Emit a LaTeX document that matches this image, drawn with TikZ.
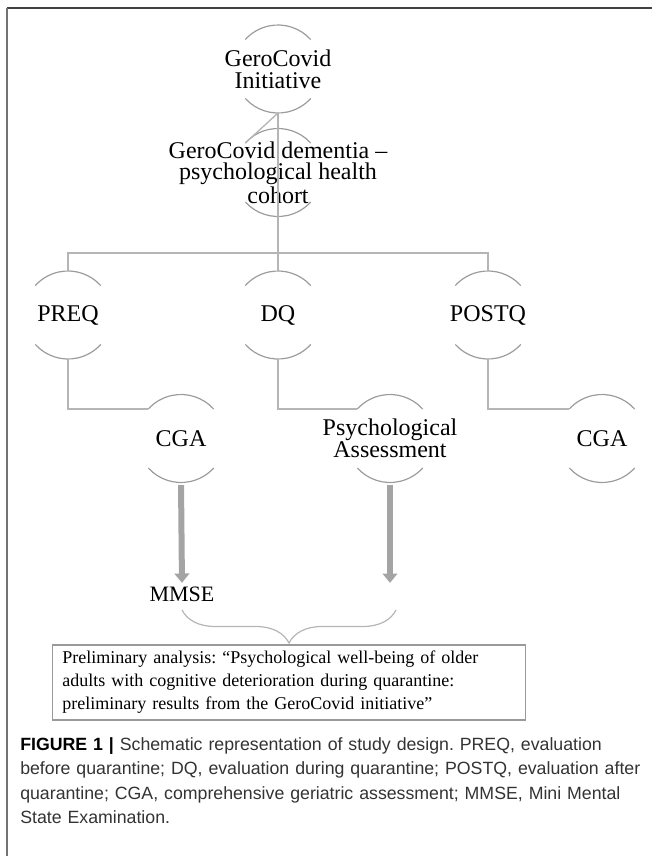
\documentclass[tikz,border=0pt]{standalone}
\usepackage{fontspec}
\setmainfont{Liberation Serif}
\newfontfamily\capfont{Liberation Sans}
\usetikzlibrary{arrows.meta,decorations.pathreplacing}
\frenchspacing

\definecolor{rimgray}{HTML}{9C9C9C}
\definecolor{linkgray}{HTML}{B5B5B5}
\definecolor{arrowgray}{HTML}{A4A4A4}
\definecolor{boxgray}{HTML}{9A9A9A}

\begin{document}
\begin{tikzpicture}[x=0.75pt,y=0.75pt,>=stealth,
  bubble/.style={circle,minimum size=66pt,inner sep=0pt,outer sep=0pt},
  tag/.style={align=center,font=\fontsize{18}{16.3}\selectfont},
  rim/.style={draw=rimgray,line width=0.9pt},
  link/.style={draw=linkgray,line width=1pt},
  bigarrow/.style={draw=arrowgray,line width=4.5pt,-{Triangle[length=7pt,width=11pt]}}]

\useasboundingbox (0,0) rectangle (652,-856);

% frame
\draw [line width=1.5pt,black!75] (7,-8) -- (652,-8);
\draw [line width=1.5pt,black!55] (7,-8) -- (7,-856);

\node [bubble,label={[tag]center:{GeroCovid\\Initiative}}] at (278,-69) (top) {};
\node [bubble,label={[tag]center:{GeroCovid dementia –\\psychological health\\cohort}}] at (278,-172.5) (gc) {};

\node [bubble,label={[tag]center:PREQ}] at (68,-315) (preq) {};
\node [bubble,label={[tag]center:DQ}] at (278,-315) (dq) {};
\node [bubble,label={[tag]center:POSTQ}] at (488,-315) (postq) {};

\node [bubble,label={[tag]center:CGA}] at (181,-438.5) (cgaA) {};
\node [bubble,label={[tag]center:{Psychological\\Assessment}}] at (390,-438.5) (psy) {};
\node [bubble,label={[tag]center:CGA}] at (602,-438.5) (cgaB) {};

\foreach \n in {top,gc,preq,dq,postq,cgaA,psy,cgaB} {
  \draw [rim] (\n.42) arc [start angle=42,end angle=138,radius=33pt];
  \draw [rim] (\n.222) arc [start angle=222,end angle=318,radius=33pt];
}

\coordinate (split) at (278,-253);

\draw [link] (top.south) -- (gc.138);
\draw [link] (top.south) -- (dq.north);
\draw [link] (preq.north) |- (split) -| (postq.north);

\draw [link] (preq.south) |- (cgaA.138);
\draw [link] (dq.south) |- (psy.138);
\draw [link] (postq.south) |- (cgaB.138);

\node [inner sep=1pt,font=\fontsize{16.5}{18}\selectfont] at (182,-594.5) (mmse) {MMSE};
\coordinate (psyend) at (psy.south |- mmse.north);

\draw [bigarrow,shorten <=2pt,shorten >=2pt] (cgaA.south) -- (mmse.north);
\draw [bigarrow,shorten <=2pt,shorten >=2pt] (psy.south) -- (psyend);

\coordinate (bl) at (182,-610);
\coordinate (br) at (396,-610);
\draw [linkgray,line width=0.9pt,decorate,decoration={brace,mirror,amplitude=24.75pt}] (bl) -- (br);

\node [draw=boxgray,line width=0.8pt,text width=340pt,inner xsep=7.5pt,inner ysep=4pt,
  minimum height=56.25pt,align=left,font=\fontsize{13.5}{17.25}\selectfont]
  at (289,-682.5) (study)
  {Preliminary analysis: “Psychological well-being of older\\
   adults with cognitive deterioration during quarantine:\\
   preliminary results from the GeroCovid initiative”};

\node [anchor=north west,inner sep=0pt,text width=470pt,align=left,text=black!80,
  font=\capfont\fontsize{13.3}{18.4}\selectfont] at (20,-737) (caption)
  {\textbf{\color{black}FIGURE 1 |} Schematic representation of study design. PREQ, evaluation\\
   before quarantine; DQ, evaluation during quarantine; POSTQ, evaluation after\\
   quarantine; CGA, comprehensive geriatric assessment; MMSE, Mini Mental\\
   State Examination.};

\end{tikzpicture}
\end{document}
